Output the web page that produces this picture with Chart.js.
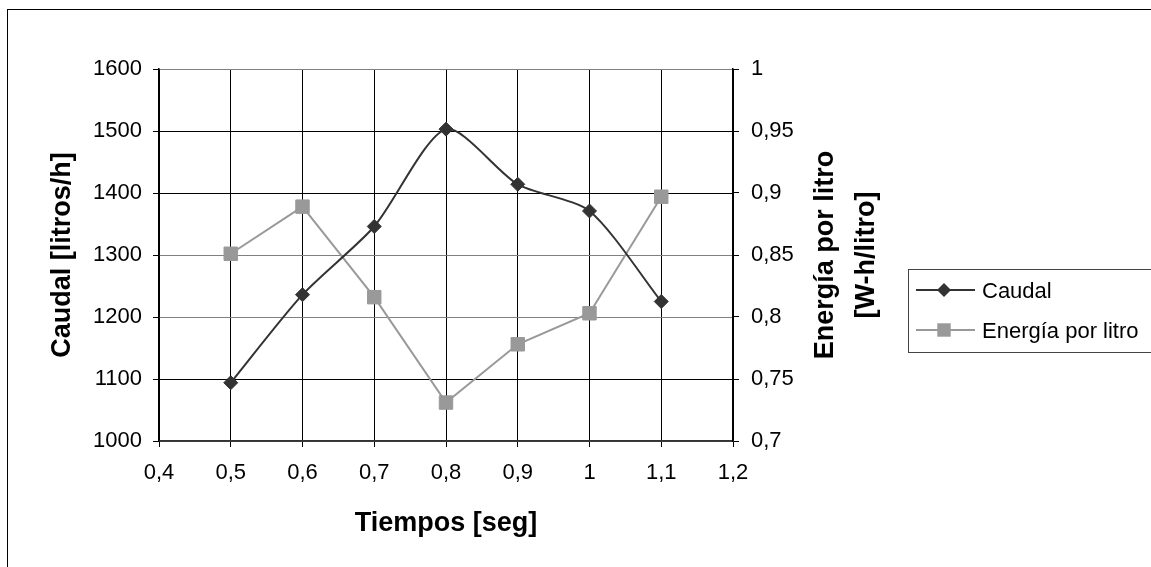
<!DOCTYPE html>
<html>
<head>
<meta charset="utf-8">
<script src="https://cdn.jsdelivr.net/npm/chart.js@4.4.1/dist/chart.umd.min.js"></script>
<style>
  html, body { margin: 0; padding: 0; background: #fff; }
  #wrap { width: 1151px; height: 567px; position: relative; }
</style>
</head>
<body>
<div id="wrap"><canvas id="chart"></canvas></div>
<script>
// values
const tiempos = [0.5, 0.6, 0.7, 0.8, 0.9, 1.0, 1.1];
const caudal = [1094, 1236, 1346, 1503, 1414, 1371, 1225];
const energia = [0.851, 0.889, 0.816, 0.731, 0.778, 0.803, 0.897];

const xTitle = 'Tiempos [seg]';
const yTitle = 'Caudal [litros/h]';
const y2Title = ['Energía por litro', '[W-h/litro]'];
const seriesNames = ['Caudal', 'Energía por litro'];

const FONT = '"Liberation Sans", Arial, sans-serif';
const DARK = '#333333';
const GREY = '#999999';
// shade of each horizontal grid line, bottom to top
const gridShades = ['#444444', '#000000', '#808080', '#808080', '#000000', '#000000', '#808080'];

const comma = v => String(Number(v.toFixed(2))).replace('.', ',');

const extras = {
  id: 'extras',
  beforeDraw(chart) {
    const ctx = chart.ctx;
    ctx.save();
    ctx.fillStyle = '#fff';
    ctx.fillRect(0, 0, chart.width, chart.height);
    ctx.restore();
  },
  afterDraw(chart) {
    const ctx = chart.ctx;
    const area = chart.chartArea;
    ctx.save();

    // outer frame
    ctx.strokeStyle = '#000';
    ctx.lineWidth = 1;
    ctx.strokeRect(7.5, 9.5, 1300, 700);

    // axis titles
    ctx.fillStyle = '#000';
    ctx.font = 'bold 27px ' + FONT;
    ctx.textAlign = 'center';
    ctx.textBaseline = 'alphabetic';
    ctx.fillText(xTitle, (area.left + area.right) / 2, 531);

    const midY = (area.top + area.bottom) / 2;
    ctx.save();
    ctx.translate(70, midY);
    ctx.rotate(-Math.PI / 2);
    ctx.fillText(yTitle, 0, 0);
    ctx.restore();

    ctx.save();
    ctx.translate(833, midY);
    ctx.rotate(-Math.PI / 2);
    ctx.fillText(y2Title[0], 0, 0);
    ctx.fillText(y2Title[1], 0, 41);
    ctx.restore();

    // legend
    ctx.strokeStyle = '#444';
    ctx.lineWidth = 1;
    ctx.strokeRect(908.5, 269.5, 260, 83);
    ctx.font = '22px ' + FONT;
    ctx.textAlign = 'left';
    const rows = [290, 330];
    chart.data.datasets.forEach((ds, i) => {
      const y = rows[i];
      ctx.strokeStyle = ds.borderColor;
      ctx.lineWidth = ds.borderWidth;
      ctx.beginPath();
      ctx.moveTo(916, y);
      ctx.lineTo(975, y);
      ctx.stroke();
      ctx.fillStyle = ds.pointBackgroundColor;
      ctx.beginPath();
      if (ds.pointStyle === 'rectRot') {
        const r = ds.pointRadius;
        ctx.moveTo(944 - r, y);
        ctx.lineTo(944, y - r);
        ctx.lineTo(944 + r, y);
        ctx.lineTo(944, y + r);
        ctx.closePath();
      } else {
        const s = ds.pointRadius * Math.SQRT1_2;
        ctx.rect(944 - s, y - s, 2 * s, 2 * s);
      }
      ctx.fill();
      ctx.fillStyle = '#000';
      ctx.fillText(ds.label, 982, y + 8);
    });
    ctx.restore();
  }
};

new Chart(document.getElementById('chart'), {
  type: 'line',
  data: {
    datasets: [
      {
        label: seriesNames[0],
        data: tiempos.map((t, i) => ({ x: t, y: caudal[i] })),
        yAxisID: 'y',
        borderColor: DARK,
        borderWidth: 2,
        tension: 0.25,
        pointStyle: 'rectRot',
        pointRadius: 7,
        pointBackgroundColor: DARK,
        pointBorderColor: DARK,
        pointBorderWidth: 1
      },
      {
        label: seriesNames[1],
        data: tiempos.map((t, i) => ({ x: t, y: energia[i] })),
        yAxisID: 'y2',
        borderColor: GREY,
        borderWidth: 2,
        tension: 0,
        pointStyle: 'rect',
        pointRadius: 9.5,
        pointBackgroundColor: GREY,
        pointBorderColor: GREY,
        pointBorderWidth: 1
      }
    ]
  },
  options: {
    responsive: true,
    maintainAspectRatio: false,
    animation: false,
    devicePixelRatio: 1,
    layout: { padding: { top: 69, left: 0, right: 0, bottom: 0 } },
    plugins: { legend: { display: false }, tooltip: { enabled: false } },
    scales: {
      x: {
        type: 'linear',
        min: 0.4,
        max: 1.2,
        ticks: { stepSize: 0.1, color: '#000', padding: 13, font: { family: FONT, size: 22 }, callback: comma },
        grid: { color: '#000', lineWidth: 1, tickLength: 6, tickColor: '#000' },
        border: { color: '#333', width: 1.5 },
        afterFit: s => { s.height = 126; }
      },
      y: {
        position: 'left',
        min: 1000,
        max: 1600,
        ticks: { stepSize: 100, color: '#000', padding: 11, font: { family: FONT, size: 22 }, callback: v => String(v) },
        grid: {
          color: c => gridShades[c.index] || '#000',
          lineWidth: 1,
          tickLength: 6,
          tickColor: '#000'
        },
        border: { color: '#000', width: 1.5 },
        afterFit: s => { s.width = 159; }
      },
      y2: {
        position: 'right',
        min: 0.7,
        max: 1,
        ticks: { stepSize: 0.05, color: '#000', padding: 12, font: { family: FONT, size: 22 }, callback: comma },
        grid: { drawOnChartArea: false, tickLength: 6, tickColor: '#000' },
        border: { color: '#000', width: 1.5 },
        afterFit: s => { s.width = 418; }
      }
    }
  },
  plugins: [extras]
});
</script>
</body>
</html>
